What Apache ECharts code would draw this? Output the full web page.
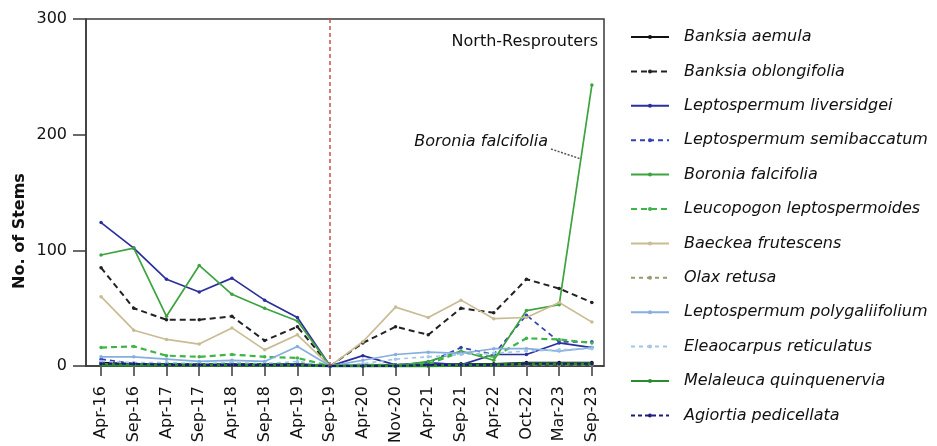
<!DOCTYPE html>
<html>
<head>
<meta charset="utf-8">
<script src="https://cdn.jsdelivr.net/npm/echarts@6/dist/echarts.min.js"></script>
<style>html,body{margin:0;padding:0;background:#fff}#c{width:937px;height:446px}</style>
</head>
<body>
<div id="c"></div>
<script>
const categories = ['Apr-16','Sep-16','Apr-17','Sep-17','Apr-18','Sep-18','Apr-19','Sep-19','Apr-20','Nov-20','Apr-21','Sep-21','Apr-22','Oct-22','Mar-23','Sep-23'];
const yTicks = [0, 100, 200, 300];

const banksiaAemula        = [3,2,2,2,2,2,2,0,1,1,1,2,2,3,3,3];
const banksiaOblongifolia  = [85,50,40,40,43,22,34,0,20,34,27,50,46,75,67,55];
const leptoLiversidgei     = [124,102,75,64,76,57,42,0,9,1,3,1,10,10,20,16];
const leptoSemibaccatum    = [6,2,2,2,2,2,2,0,1,1,3,16,10,44,21,21];
const boroniaFalcifolia    = [96,102,43,87,62,50,39,0,0,0,4,13,5,48,53,243];
const leucopogon           = [16,17,9,8,10,8,7,0,1,1,2,12,8,24,23,20];
const baeckeaFrutescens    = [60,31,23,19,33,14,27,0,21,51,42,57,41,42,55,38];
const olaxRetusa           = [2,1,1,1,1,1,1,0,0,0,0,1,1,1,1,1];
const leptoPolygaliifolium = [8,8,6,4,5,4,17,0,5,10,12,11,15,15,13,16];
const eleaocarpus          = [4,3,3,2,3,2,4,0,2,6,8,10,11,13,14,15];
const melaleuca            = [1,1,1,1,1,1,1,0,0,0,0,1,1,2,2,2];
const agiortia             = [2,2,1,1,1,1,1,0,0,0,1,1,1,2,2,2];

const seriesDefs = [
  ['Banksia aemula', banksiaAemula, '#111111', 'solid', 1.5],
  ['Banksia oblongifolia', banksiaOblongifolia, '#222222', [6,4], 2],
  ['Leptospermum liversidgei', leptoLiversidgei, '#2a2f9c', 'solid', 1.7],
  ['Leptospermum semibaccatum', leptoSemibaccatum, '#3242b5', [5,4], 1.7],
  ['Boronia falcifolia', boroniaFalcifolia, '#3da33f', 'solid', 1.7],
  ['Leucopogon leptospermoides', leucopogon, '#3fb549', [6,4], 2.2],
  ['Baeckea frutescens', baeckeaFrutescens, '#c9bb93', 'solid', 1.7],
  ['Olax retusa', olaxRetusa, '#9c9870', [4,4], 1.5],
  ['Leptospermum polygaliifolium', leptoPolygaliifolium, '#86aede', 'solid', 1.7],
  ['Eleaocarpus reticulatus', eleaocarpus, '#a3c6ea', [4,4], 1.7],
  ['Melaleuca quinquenervia', melaleuca, '#2a8c2e', 'solid', 3],
  ['Agiortia pedicellata', agiortia, '#1c1c7a', [4,3], 2]
];

const idx = categories.map((c, i) => i);
const FONT = 'DejaVu Sans';

const series = seriesDefs.map(([name, vals, color, type, width]) => ({
  name: name,
  type: 'line',
  data: vals.map((v, i) => [i, v]),
  symbol: 'circle',
  symbolSize: 3.5,
  showSymbol: true,
  itemStyle: { color: color },
  lineStyle: { color: color, type: type, width: width },
  emphasis: { disabled: true },
  animation: false
}));

series[0].markLine = {
  silent: true,
  symbol: ['none', 'none'],
  label: { show: false },
  lineStyle: { color: '#c8524f', type: [4, 3], width: 1.5 },
  data: [{ xAxis: 7 }],
  animation: false
};

const chart = echarts.init(document.getElementById('c'));
chart.setOption({
  backgroundColor: '#fff',
  animation: false,
  textStyle: { fontFamily: FONT },
  grid: {
    left: 86, top: 19, right: 333, bottom: 78,
    show: true, borderColor: '#3a3a3a', borderWidth: 1.5, backgroundColor: 'transparent'
  },
  xAxis: {
    type: 'value',
    min: -0.46, max: 15.37,
    axisLine: { show: true, onZero: false, lineStyle: { color: '#3a3a3a', width: 1.5 } },
    axisTick: { show: true, customValues: idx, length: 10, lineStyle: { color: '#3a3a3a', width: 1.5 } },
    axisLabel: {
      customValues: idx,
      formatter: v => categories[Math.round(v)],
      rotate: 90, margin: 20,
      fontFamily: FONT, fontSize: 16, color: '#111'
    },
    splitLine: { show: false }
  },
  yAxis: {
    type: 'value',
    min: 0, max: 300, interval: 100,
    axisLine: { show: true, onZero: false, lineStyle: { color: '#3a3a3a', width: 1.5 } },
    axisTick: { show: true, customValues: yTicks, length: 13, lineStyle: { color: '#3a3a3a', width: 1.5 } },
    axisLabel: { customValues: yTicks, margin: 19, fontFamily: FONT, fontSize: 16, color: '#111' },
    splitLine: { show: false }
  },
  legend: {
    orient: 'vertical',
    left: 625, top: 24,
    itemWidth: 38, itemHeight: 5,
    itemGap: 18.4,
    textStyle: { fontFamily: FONT, fontSize: 16, fontStyle: 'italic', color: '#111', lineHeight: 16, padding: [0,0,0,10] },
    data: seriesDefs.map(d => d[0])
  },
  graphic: [
    { type: 'text', x: 20, y: 231, rotation: Math.PI / 2,
      style: { text: 'No. of Stems', font: 'bold 16px "DejaVu Sans"', fill: '#111', textAlign: 'center', textVerticalAlign: 'middle' } },
    { type: 'text', x: 598, y: 42,
      style: { text: 'North-Resprouters', font: '16px "DejaVu Sans"', fill: '#111', textAlign: 'right', textVerticalAlign: 'middle' } },
    { type: 'text', x: 548, y: 142,
      style: { text: 'Boronia falcifolia', font: 'italic 16px "DejaVu Sans"', fill: '#111', textAlign: 'right', textVerticalAlign: 'middle' } },
    { type: 'polyline', shape: { points: [[551, 149], [581, 159]] },
      style: { stroke: '#555', lineWidth: 1.5, lineDash: [2, 1.5] } }
  ],
  series: series
});
</script>
</body>
</html>
